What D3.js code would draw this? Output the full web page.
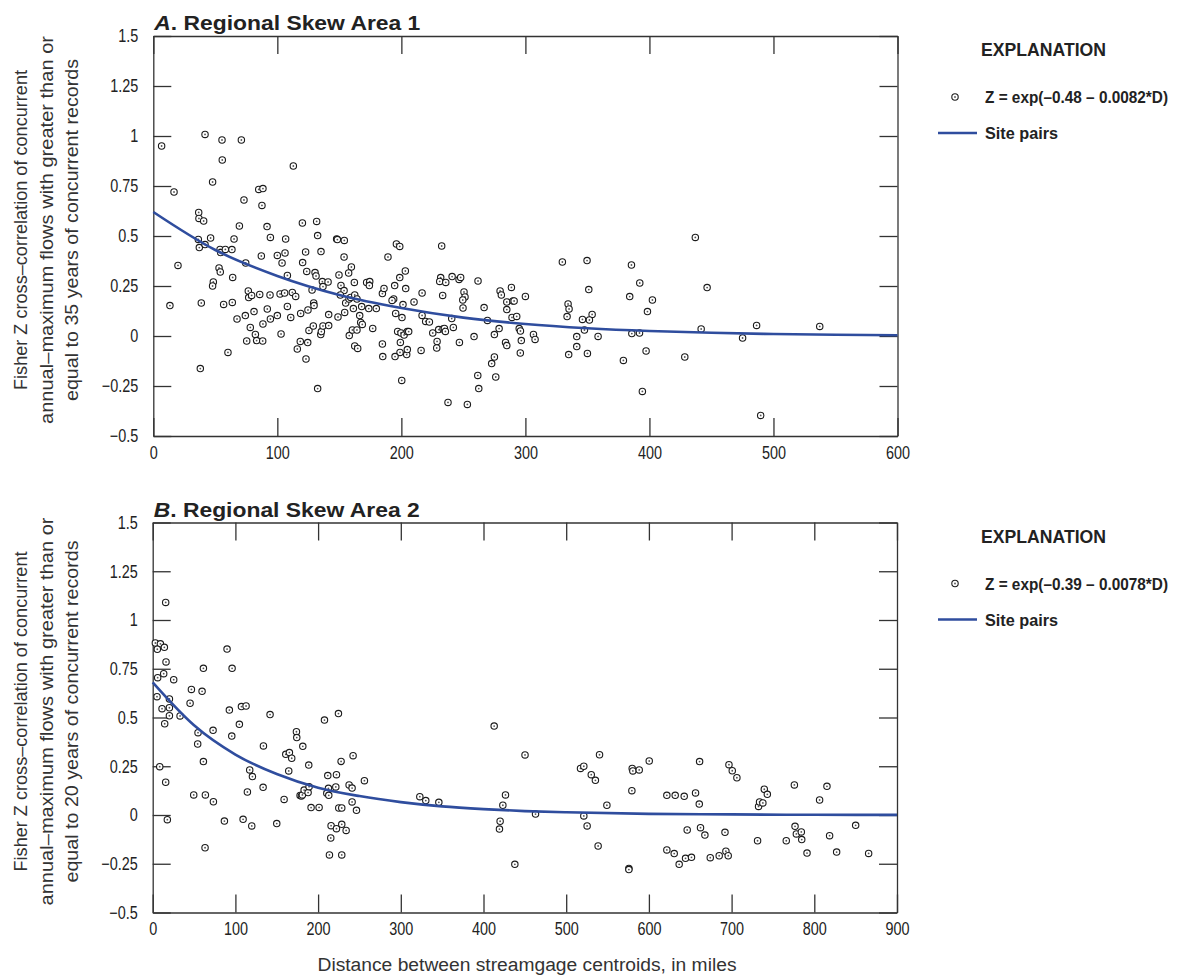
<!DOCTYPE html>
<meta charset="utf-8">
<html>
<head>
  <meta charset="utf-8">
  <title>Fisher Z cross-correlation vs distance</title>
</head>
<style>
  body { margin: 0; background: #fff; }
  svg { font-family: "Liberation Sans", Arial, sans-serif; }
  .axis path, .axis line { stroke: #333; stroke-width: 1.3px; }
  .axis text { font-size: 18px; fill: #222; }
  .title { font-size: 21px; font-weight: bold; fill: #222; }
  .legend text { fill: #222; font-weight: bold; }
</style>
<body>
<svg width="1179" height="977"></svg>
<script src="https://d3js.org/d3.v7.min.js"></script>
<script>

// ---- panel A: Regional Skew Area 1 (distance in miles, Fisher Z) ----
var distA = [6.7,41.7,55.4,71,55.6,112.9,16.7,47.8,85,88.4,73.1,87.6,36.6,36.8,40.6,69.4,91.7,120.2,131.7,132.5,
  36.3,37.1,41.7,46.2,19.9,13.4,38.7,37.9,53.8,54.3,58.1,63.4,65.1,74.5,53,54,64,48.4,47.8,56.7,63.7,60.2,67.5,74.2,
  76.6,76.9,79.3,85.8,81.2,78.2,82.3,75.3,83.3,88.2,88.4,87.1,94.4,91.9,94.4,94.1,100,103.8,106.2,106.7,108.1,102.2,
  105.9,100,103,108.1,110.8,112.1,114.8,120.4,122.8,123.7,128,118.8,124.7,116.1,118.5,124.5,123.1,125.5,129,129.3,
  129.6,130.4,131.2,135.2,132.5,135,135.5,136.8,136.3,136.8,140.9,141.4,141.4,147.8,148.4,154,153.8,149.7,151.3,153.8,
  150.8,155.1,148.9,154.3,159.7,157.5,157.8,159.1,162.1,162.4,164.2,161.3,158,160.5,164.2,162.4,164.8,166.4,167.2,
  168.5,168,172,174.5,174.2,173.7,176.9,179.8,184.7,186,184.7,185,189.2,193.8,192.5,194.6,196,198.7,198.7,203.2,203.5,
  195.4,200.5,201.3,197,199.7,202.2,204.8,205.9,199.2,198.9,194.9,204.3,204.8,200.3,210.2,216.7,216.7,219.6,222.6,
  215.9,225.3,228.8,228.5,230.1,233.6,234.7,235.5,231.7,230.9,235.8,232.5,233.3,240.9,246.5,247.8,240.6,241.9,246.8,
  237.6,253.2,250.5,251.3,249.5,249.7,258.6,261.8,266.7,269.4,261.6,262.4,272.8,275,276.1,275,278.8,
  279.6,280.6,288.7,285,285,289.2,293,290,290.9,300,295,296,296.7,295.9,284,285,306.5,307.8,329.8,334.4,335.2,333.6,
  334.9,341.4,341.4,349.7,351.1,353.8,351.6,346,347.6,350,358.6,385.5,392.2,384.1,402.4,398.4,385.8,392,397.3,379,
  394.3,437,446.5,441.7,428.5,475.1,486.4,489.7,537.3];
var zA = [0.95,1.008,0.98,0.98,0.88,0.85,0.72,0.77,0.733,0.737,0.68,0.653,0.618,0.588,0.575,0.55,0.547,0.565,0.573,0.502,
  0.483,0.442,0.457,0.49,0.353,0.152,0.165,-0.163,0.433,0.417,0.433,0.432,0.485,0.365,0.34,0.32,0.293,0.27,0.25,0.158,
  0.168,-0.082,0.085,0.102,0.225,0.192,0.203,0.208,0.122,0.043,0.008,-0.025,-0.023,-0.025,0.06,0.4,0.493,0.135,0.085,
  0.205,0.403,0.365,0.415,0.485,0.303,0.21,0.215,0.102,0.01,0.148,0.093,0.218,0.198,0.367,0.42,0.323,0.23,0.113,0.13,
  -0.065,-0.027,-0.033,-0.115,0.028,0.05,0.165,0.152,0.317,0.3,0.422,-0.263,0.007,0.022,0.05,0.272,0.247,0.27,0.107,
  0.052,0.485,0.482,0.478,0.395,0.305,0.253,0.227,0.205,0.165,0.095,0.118,0.345,0.315,0.185,0.193,0.268,0.205,0.185,
  0.137,0.002,0.03,0.03,-0.05,-0.062,0.102,0.068,0.058,0.147,0.268,0.272,0.252,0.137,0.038,0.137,0.212,0.238,-0.04,
  -0.103,0.395,0.185,0.178,0.252,0.46,0.448,0.292,0.325,0.237,0.113,0.092,0.157,0.023,0.015,0.005,0.023,0.022,-0.032,
  -0.082,-0.103,-0.093,-0.068,-0.222,0.17,0.215,0.103,0.073,0.07,-0.072,0.015,-0.027,-0.06,0.032,0.035,0.038,0.023,
  0.292,0.273,0.268,0.45,0.203,0.297,0.283,0.293,0.087,0.043,-0.032,-0.332,-0.342,0.22,0.195,0.18,0.14,-0.003,0.275,
  0.142,0.078,-0.197,-0.263,-0.138,-0.105,-0.205,0.007,0.037,
  0.225,0.205,0.243,0.17,0.132,0.093,0.098,0.175,0.175,0.198,0.037,0.025,-0.023,-0.085,-0.032,-0.048,0.008,-0.017,0.37,
  0.16,0.135,0.097,-0.093,-0.003,-0.053,0.377,0.232,0.108,0.08,0.083,0.03,-0.087,-0.002,0.355,0.265,0.197,0.18,0.122,
  0.012,0.015,-0.075,-0.122,-0.277,0.493,0.242,0.035,-0.105,-0.01,0.053,-0.397,0.048];
// fitted curve A
var curveDistA = [0,50,100,150,200,250,300,350,400,450,500,550,600];
var curveZA = [0.62,0.43,0.30,0.205,0.14,0.092,0.06,0.039,0.025,0.016,0.01,0.006,0.004];

// ---- panel B: Regional Skew Area 2 ----
var distB = [15.7,3.2,9.3,5.6,14.1,89.9,16.1,61.3,96,
  6,13.3,25.4,5.2,20.2,11.3,20.2,14.5,20.2,33.1,8.5,15.7,17.7,46.8,59.7,45.2,54.8,54.4,61.3,49.6,63.7,73.4,63.3,73,
  92.7,95.6,107.3,112.9,104.8,86.7,109.3,119.8,117.3,120.6,114.5,133.5,133.9,141.9,150,158.9,160.9,165.3,168.1,164.5,
  173.8,174.2,181.5,188.7,178.2,179.8,181,183.1,187.9,189.1,191.5,201.2,207.7,224.6,211.7,222.2,227.8,242.3,212.5,
  210.5,212.9,221.4,237.5,241.1,256,241.1,225,228.6,246.4,215.7,222.2,228.6,233.9,215.3,213.7,228.6,323,330.2,346,412.9,
  450.2,426.6,423.4,420.1,419.3,437.9,462.9,517.3,521.3,540.3,530.3,535.3,549.2,521.3,525.3,538.6,579.8,580.6,588.3,
  600.4,579.4,575.8,575.8,621.7,631.8,642.7,656.4,660.9,661.3,646.3,662.4,667.7,621.7,630.6,636.6,644.3,651.5,674.2,
  685,693.1,695.9,692,696.8,700.8,706.4,739.5,743.2,732.6,733.8,737.8,731.4,775.9,815.3,806.4,776.7,778.3,784.3,784.8,
  766.1,791.2,818.5,827,850,865.7];
var zB = [1.09,0.882,0.878,0.85,0.86,0.851,0.785,0.752,0.752,
  0.704,0.725,0.694,0.607,0.595,0.545,0.55,0.468,0.509,0.508,0.248,0.168,-0.024,0.644,0.634,0.573,0.422,0.364,0.274,
  0.103,0.103,0.068,-0.168,0.434,0.538,0.405,0.556,0.559,0.465,-0.031,-0.022,-0.056,0.231,0.197,0.118,0.142,0.354,
  0.515,-0.044,0.08,0.311,0.32,0.291,0.226,0.427,0.397,0.352,0.256,0.1,0.097,0.103,0.128,0.115,0.145,0.038,0.039,
  0.487,0.52,0.202,0.207,0.275,0.304,0.137,0.111,0.101,0.144,0.154,0.138,0.176,0.067,0.036,0.036,0.024,-0.055,-0.07,
  -0.048,-0.079,-0.118,-0.205,-0.205,0.094,0.074,0.065,0.456,
  0.308,0.103,0.05,-0.032,-0.072,-0.253,0.005,0.239,0.25,0.309,0.207,0.178,0.05,-0.005,-0.056,-0.159,0.239,0.226,0.231,
  0.277,0.125,-0.274,-0.28,0.101,0.101,0.096,0.113,0.056,0.274,-0.077,-0.065,-0.103,-0.179,-0.198,-0.253,-0.222,-0.217,
  -0.219,-0.209,-0.186,-0.209,-0.089,0.258,0.227,0.191,0.132,0.106,0.044,0.067,0.062,-0.132,0.154,0.147,0.077,-0.058,
  -0.097,-0.087,-0.126,-0.132,-0.195,-0.106,-0.19,-0.053,-0.197];
var curveDistB = [0,50,100,150,200,250,300,350,400,450,500,600,700,800,900];
var curveZB = [0.68,0.46,0.31,0.21,0.14,0.097,0.066,0.044,0.03,0.02,0.014,0.006,0.003,0.001,0.0006];

var yTicks = [-0.5,-0.25,0,0.25,0.5,0.75,1,1.25,1.5];
var xTicksA = [0,100,200,300,400,500,600];
var xTicksB = [0,100,200,300,400,500,600,700,800,900];

var svg = d3.select("svg");
var lineBlue = "#2f4d9e";

function fmt(d) { return String(d).replace("-", "\u2212"); }

// squeeze text horizontally, the original uses a condensed face
function condense(sel, k) {
  sel.each(function() {
    var w = this.getComputedTextLength();
    if (w > 0) d3.select(this).attr("textLength", w * k).attr("lengthAdjust", "spacingAndGlyphs");
  });
}
function fitTo(sel, w) {
  sel.attr("textLength", w).attr("lengthAdjust", "spacingAndGlyphs");
}

function drawPanel(p) {
  var x = d3.scaleLinear().domain(p.xDomain).range([p.left, p.right]);
  var y = d3.scaleLinear().domain([-0.5, 1.5]).range([p.bottom, p.top]);
  var g = svg.append("g");

  var xb = g.append("g").attr("class", "axis")
    .attr("transform", "translate(0," + p.bottom + ")")
    .call(d3.axisBottom(x).tickValues(p.xTicks).tickSize(-18).tickSizeOuter(0).tickPadding(10));
  g.append("g").attr("class", "axis")
    .attr("transform", "translate(0," + p.top + ")")
    .call(d3.axisTop(x).tickValues(p.xTicks).tickSize(-18).tickSizeOuter(0).tickFormat(""));
  var yl = g.append("g").attr("class", "axis")
    .attr("transform", "translate(" + p.left + ",0)")
    .call(d3.axisLeft(y).tickValues(yTicks).tickSize(-18).tickSizeOuter(0).tickPadding(15).tickFormat(fmt));
  g.append("g").attr("class", "axis")
    .attr("transform", "translate(" + p.right + ",0)")
    .call(d3.axisRight(y).tickValues(yTicks).tickSize(-18).tickSizeOuter(0).tickFormat(""));
  condense(xb.selectAll("text"), 0.8);
  condense(yl.selectAll("text"), 0.8);

  // points
  var pts = g.append("g").selectAll("g.pt")
    .data(p.dist.map(function(d, i) { return [d, p.z[i]]; }))
    .enter().append("g")
    .attr("transform", function(d) { return "translate(" + x(d[0]) + "," + y(d[1]) + ")"; });
  pts.append("circle").attr("r", 3.2).attr("fill", "#fff").attr("stroke", "#1b1b1b").attr("stroke-width", 1.1);
  pts.append("circle").attr("r", 0.9).attr("fill", "#555");

  // curve
  var line = d3.line().curve(d3.curveMonotoneX)
    .x(function(d) { return x(d[0]); })
    .y(function(d) { return y(d[1]); });
  g.append("path")
    .datum(p.cDist.map(function(d, i) { return [d, p.cZ[i]]; }))
    .attr("d", line)
    .attr("fill", "none").attr("stroke", lineBlue).attr("stroke-width", 2.6);

  // panel title
  var t = g.append("text").attr("class", "title").attr("x", p.left + 1).attr("y", p.top - 6);
  t.append("tspan").style("font-style", "italic").text(p.letter);
  t.append("tspan").text(". Regional Skew Area " + p.num);
  fitTo(t, 266);

  // y-axis title
  var yt = g.append("text")
    .attr("transform", "translate(0," + ((p.top + p.bottom) / 2 - 6) + ") rotate(-90)")
    .attr("text-anchor", "middle").style("font-size", "18px").attr("fill", "#333");
  var widths = [320, 388, 342];
  p.yLabel.forEach(function(s, i) {
    yt.append("tspan").attr("x", 0).attr("y", 27 + i * 25.5).text(s)
      .attr("textLength", widths[i]).attr("lengthAdjust", "spacingAndGlyphs");
  });

  // legend
  var lg = g.append("g").attr("class", "legend");
  fitTo(lg.append("text").attr("x", 981).attr("y", p.top + 20).style("font-size", "17.5px").text("EXPLANATION"), 125);
  var m = lg.append("g").attr("transform", "translate(955," + (p.top + 61) + ")");
  m.append("circle").attr("r", 3.2).attr("fill", "#fff").attr("stroke", "#1b1b1b").attr("stroke-width", 1.1);
  m.append("circle").attr("r", 0.9).attr("fill", "#555");
  fitTo(lg.append("text").attr("x", 985).attr("y", p.top + 67).style("font-size", "16.5px").text(p.eq), 183);
  lg.append("line").attr("x1", 938).attr("x2", 977).attr("y1", p.top + 97).attr("y2", p.top + 97)
    .attr("stroke", lineBlue).attr("stroke-width", 2.6);
  fitTo(lg.append("text").attr("x", 985).attr("y", p.top + 103).style("font-size", "16.5px").text("Site pairs"), 73);
}

drawPanel({
  letter: "A", num: "1", xDomain: [0, 600], xTicks: xTicksA,
  left: 153.3, right: 897.5, top: 36, bottom: 436,
  dist: distA, z: zA, cDist: curveDistA, cZ: curveZA,
  eq: "Z = exp(\u20130.48 \u2013 0.0082*D)",
  yLabel: ["Fisher Z cross\u2013correlation of concurrent",
           "annual\u2013maximum flows with greater than or",
           "equal to 35 years of concurrent records"]
});

drawPanel({
  letter: "B", num: "2", xDomain: [0, 900], xTicks: xTicksB,
  left: 152.7, right: 897, top: 522.5, bottom: 912.5,
  dist: distB, z: zB, cDist: curveDistB, cZ: curveZB,
  eq: "Z = exp(\u20130.39 \u2013 0.0078*D)",
  yLabel: ["Fisher Z cross\u2013correlation of concurrent",
           "annual\u2013maximum flows with greater than or",
           "equal to 20 years of concurrent records"]
});

fitTo(svg.append("text")
  .attr("x", 527).attr("y", 971)
  .attr("text-anchor", "middle")
  .style("font-size", "18px").attr("fill", "#333")
  .text("Distance between streamgage centroids, in miles"), 419);

</script>
</body>
</html>
